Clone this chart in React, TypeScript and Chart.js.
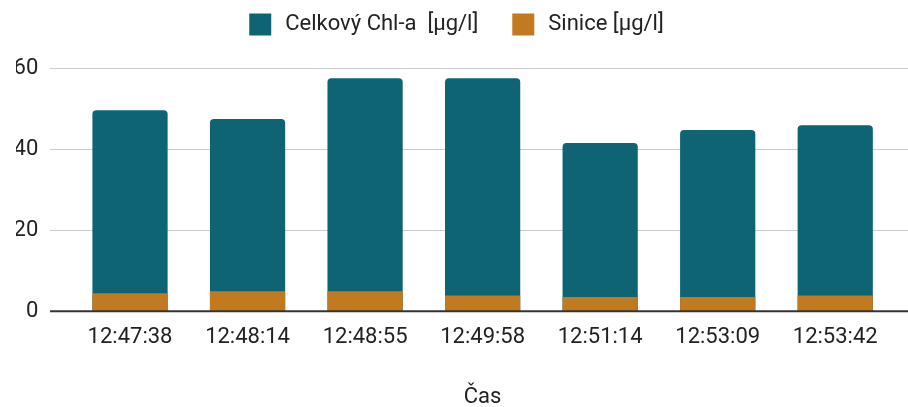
import React, { useEffect, useRef } from "react";
import { Chart, registerables } from "chart.js";

Chart.register(...registerables);

const categories = ["12:47:38", "12:48:14", "12:48:55", "12:49:58", "12:51:14", "12:53:09", "12:53:42"];
const celkovyChl = [49.6, 47.4, 57.5, 57.5, 41.5, 44.7, 45.9];
const sinice = [4.4, 4.9, 4.9, 3.9, 3.5, 3.5, 3.9];
const seriesNames = ["Celkový Chl-a  [µg/l]", "Sinice [µg/l]"];
const yTicks = [0, 20, 40, 60];
const xTitle = "Čas";

const FONT = "Roboto";
const TEXT = "#222222";
const TEAL = "#0f6473";
const ORANGE = "#c17a1f";

const legendSpacer = {
  id: "legendSpacer",
  beforeInit(chart: any) {
    const orig = chart.legend.fit;
    chart.legend.fit = function () {
      orig.bind(chart.legend)();
      this.height += 19.5;
    };
  },
};

const gridPlugin = {
  id: "customGrid",
  beforeDatasetsDraw(chart: any) {
    const { ctx, scales, width } = chart;
    const y = scales.y;
    ctx.save();
    ctx.strokeStyle = "#cccccc";
    ctx.lineWidth = 1;
    yTicks.forEach((v) => {
      if (v === 0) return;
      const py = Math.round(y.getPixelForValue(v)) + 0.5;
      ctx.beginPath();
      ctx.moveTo(50, py);
      ctx.lineTo(width, py);
      ctx.stroke();
    });
    ctx.restore();
  },
  afterDatasetsDraw(chart: any) {
    const { ctx, scales, width } = chart;
    const py = scales.y.getPixelForValue(0);
    ctx.save();
    ctx.strokeStyle = "#333333";
    ctx.lineWidth = 2;
    ctx.beginPath();
    ctx.moveTo(50, py);
    ctx.lineTo(width, py);
    ctx.stroke();
    ctx.restore();
  },
};

export default function App() {
  const ref = useRef<HTMLCanvasElement>(null);
  useEffect(() => {
    document.body.style.margin = "0";
    const chart = new Chart(ref.current as HTMLCanvasElement, {
      type: "bar",
      data: {
        labels: categories,
        datasets: [
          {
            label: seriesNames[0],
            data: celkovyChl,
            backgroundColor: TEAL,
            borderRadius: 4,
            order: 1,
            grouped: false,
            barPercentage: 0.64,
            categoryPercentage: 1,
          } as any,
          {
            label: seriesNames[1],
            data: sinice,
            backgroundColor: ORANGE,
            borderRadius: 0,
            order: 0,
            grouped: false,
            barPercentage: 0.64,
            categoryPercentage: 1,
          } as any,
        ],
      },
      options: {
        animation: false,
        responsive: false,
        maintainAspectRatio: false,
        layout: { padding: { top: -20.5, right: 14, left: 16, bottom: -4 } },
        plugins: {
          tooltip: { enabled: false },
          legend: {
            position: "top",
            labels: {
              font: { family: FONT, size: 22 },
              color: TEXT,
              boxWidth: 28,
              boxHeight: 28,
              padding: 31,
              sort: (a: any, b: any) => a.datasetIndex - b.datasetIndex,
              generateLabels: (c: any) =>
                Chart.defaults.plugins.legend.labels
                  .generateLabels(c)
                  .map((l: any) => ({ ...l, lineWidth: 6, strokeStyle: "#ffffff" })),
            },
          },
        },
        scales: {
          x: {
            grid: { display: false, drawTicks: false },
            border: { display: false },
            ticks: { font: { family: FONT, size: 22 }, color: TEXT, padding: 13, maxRotation: 0 },
            title: {
              display: true,
              text: xTitle,
              font: { family: FONT, size: 22 },
              color: TEXT,
              padding: { top: 21, bottom: 0 },
            },
          },
          y: {
            min: 0,
            max: 60,
            afterBuildTicks: (s: any) => {
              s.ticks = yTicks.map((v) => ({ value: v }));
            },
            afterFit: (s: any) => {
              s.width = 55.25;
            },
            grid: { display: false, drawTicks: false },
            border: { display: false },
            ticks: { font: { family: FONT, size: 22 }, color: TEXT, padding: 33 },
          },
        },
      },
      plugins: [legendSpacer, gridPlugin],
    });
    return () => chart.destroy();
  }, []);
  return <canvas ref={ref} width={908} height={407} style={{ display: "block" }} />;
}
